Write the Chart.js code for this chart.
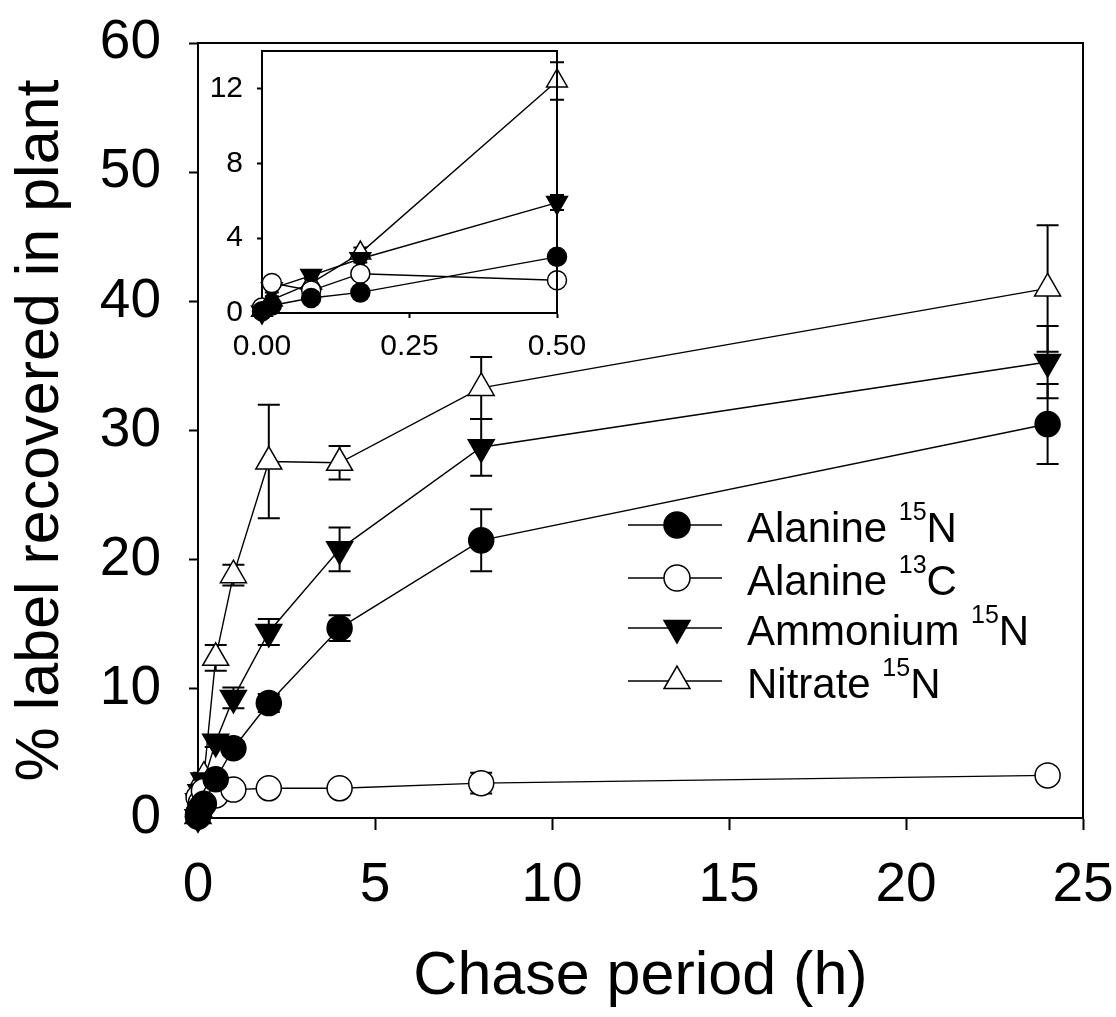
<!DOCTYPE html>
<html>
<head>
<meta charset="utf-8">
<script src="https://cdn.jsdelivr.net/npm/chart.js@4.4.1/dist/chart.umd.min.js"></script>
<style>
body{margin:0;background:#fff}
#wrap{position:relative;width:1116px;height:1017px}
#chart{position:absolute;left:0;top:0;width:1116px;height:1017px}
#inset{position:absolute;left:170px;top:30px;width:420px;height:350px}
</style>
</head>
<body>
<div id="wrap">
<canvas id="chart" width="1116" height="1017"></canvas>
<canvas id="inset" width="420" height="350"></canvas>
</div>
<script>
// chase period in hours (0, 1, 5, 10, 30 min, then 1-24 h)
var times = [0, 1/60, 5/60, 10/60, 0.5, 1, 2, 4, 8, 24];

var ala15N = [0.1, 0.4, 0.8, 1.1, 3.0, 5.4, 8.9, 14.7, 21.5, 30.5];
var ala13C = [0.3, 1.6, 1.2, 2.1, 1.75, 2.2, 2.3, 2.3, 2.7, 3.3];
var ammon15N = [0.05, 1.3, 2.0, 2.9, 5.9, 9.3, 14.4, 20.8, 28.7, 35.3];
var nitrate15N = [0.15, 0.7, 1.6, 3.2, 12.4, 18.8, 27.6, 27.5, 33.3, 41.0];

var ala15NErr = [0.1, 0.1, 0.2, 0.2, 0.3, 0.5, 0.7, 1.0, 2.4, 3.1];
var ala13CErr = [0.1, 0.2, 0.2, 0.2, 0.2, 0.3, 0.3, 0.3, 0.8, 0.4];
var ammon15NErr = [0.1, 0.2, 0.2, 0.2, 0.4, 0.8, 1.0, 1.7, 2.2, 2.8];
var nitrate15NErr = [0.1, 0.2, 0.3, 0.3, 1.0, 0.8, 4.4, 1.3, 2.4, 4.9];

// legend text: name, isotope mass (superscript), element
var names = ['Alanine', 'Alanine', 'Ammonium', 'Nitrate'];
var isotopes = ['15', '13', '15', '15'];
var elements = ['N', 'C', 'N', 'N'];

var xTicksMain = [0, 5, 10, 15, 20, 25];
var yTicksMain = [0, 10, 20, 30, 40, 50, 60];
var xTicksInset = [0, 0.25, 0.5];
var yTicksInset = [0, 4, 8, 12];

Chart.defaults.font.family = "'Liberation Sans', Arial, sans-serif";
Chart.defaults.color = '#000';

var series = [
  {vals: ala15N, err: ala15NErr, style: 'circle', fill: '#000', rot: 0},
  {vals: ala13C, err: ala13CErr, style: 'circle', fill: '#fff', rot: 0},
  {vals: ammon15N, err: ammon15NErr, style: 'triangle', fill: '#000', rot: 180},
  {vals: nitrate15N, err: nitrate15NErr, style: 'triangle', fill: '#fff', rot: 0}
];

function makeSets(n, rc, rt) {
  return series.map(function(s, i) {
    return {
      label: names[i] + ' ' + isotopes[i] + elements[i],
      data: s.vals.slice(0, n).map(function(v, j) { return {x: times[j], y: v}; }),
      errors: s.err.slice(0, n),
      showLine: true,
      borderColor: '#000',
      borderWidth: 1.4,
      pointStyle: s.style,
      pointRotation: s.rot,
      pointRadius: s.style == 'circle' ? rc : rt,
      pointBackgroundColor: s.fill,
      pointBorderColor: '#000',
      pointBorderWidth: 1.5,
      clip: false
    };
  });
}

function marker(ctx, style, x, y, r, fill, rot) {
  ctx.beginPath();
  if (style == 'circle') {
    ctx.arc(x, y, r, 0, Math.PI * 2);
  } else {
    var a = rot * Math.PI / 180;
    for (var k = 0; k < 3; k++) {
      var px = x + Math.sin(a) * r, py = y - Math.cos(a) * r;
      if (k == 0) ctx.moveTo(px, py); else ctx.lineTo(px, py);
      a += Math.PI * 2 / 3;
    }
    ctx.closePath();
  }
  ctx.fillStyle = fill;
  ctx.fill();
  ctx.lineWidth = 1.5;
  ctx.strokeStyle = '#000';
  ctx.stroke();
}

var errorBars = {
  id: 'errorBars',
  beforeDatasetsDraw: function(chart, args, opts) {
    var ctx = chart.ctx, xs = chart.scales.x, ys = chart.scales.y;
    ctx.save();
    ctx.strokeStyle = '#000';
    ctx.lineWidth = 2;
    chart.data.datasets.forEach(function(ds) {
      ds.data.forEach(function(p, j) {
        var e = ds.errors[j];
        var x = xs.getPixelForValue(p.x);
        var y1 = ys.getPixelForValue(p.y + e), y2 = ys.getPixelForValue(p.y - e);
        ctx.beginPath();
        ctx.moveTo(x, y1); ctx.lineTo(x, y2);
        ctx.moveTo(x - opts.cap, y1); ctx.lineTo(x + opts.cap, y1);
        ctx.moveTo(x - opts.cap, y2); ctx.lineTo(x + opts.cap, y2);
        ctx.stroke();
      });
    });
    ctx.restore();
  }
};

var frame = {
  id: 'frame',
  afterDraw: function(chart) {
    var a = chart.chartArea, ctx = chart.ctx;
    ctx.save();
    ctx.strokeStyle = '#000';
    ctx.lineWidth = 2;
    ctx.beginPath();
    ctx.moveTo(a.left, a.top); ctx.lineTo(a.right, a.top); ctx.lineTo(a.right, a.bottom);
    ctx.stroke();
    ctx.restore();
  }
};

var sketchLegend = {
  id: 'sketchLegend',
  afterDraw: function(chart) {
    var ctx = chart.ctx;
    var rows = [525, 578, 628, 681];
    ctx.save();
    series.forEach(function(s, i) {
      var y = rows[i];
      ctx.strokeStyle = '#000';
      ctx.lineWidth = 1.6;
      ctx.beginPath(); ctx.moveTo(628, y); ctx.lineTo(722, y); ctx.stroke();
      marker(ctx, s.style, 677, y, s.style == 'circle' ? 13 : 15, s.fill, s.rot);
      ctx.fillStyle = '#000';
      ctx.textBaseline = 'alphabetic';
      ctx.textAlign = 'left';
      ctx.font = "42px 'Liberation Sans', Arial, sans-serif";
      var tx = 747;
      var w = ctx.measureText(names[i] + ' ').width;
      ctx.fillText(names[i] + ' ', tx, y + 17);
      ctx.font = "25px 'Liberation Sans', Arial, sans-serif";
      ctx.fillText(isotopes[i], tx + w, y - 5);
      var w2 = ctx.measureText(isotopes[i]).width;
      ctx.font = "42px 'Liberation Sans', Arial, sans-serif";
      ctx.fillText(elements[i], tx + w + w2, y + 17);
    });
    ctx.restore();
  }
};

function axisOpts(min, max, tickVals, fontSize, tickLen, pad, fmt) {
  return {
    type: 'linear',
    min: min,
    max: max,
    afterBuildTicks: function(s) { s.ticks = tickVals.map(function(v) { return {value: v}; }); },
    ticks: {
      font: {size: fontSize, lineHeight: 1},
      padding: pad,
      color: '#000',
      maxRotation: 0,
      callback: fmt
    },
    grid: {display: true, drawOnChartArea: false, drawTicks: true, tickLength: tickLen, tickWidth: 2, color: '#000'},
    border: {display: true, color: '#000', width: 2}
  };
}

// fix the axis box size and drop the label overhang padding, so layout.padding places the plot area
function fixSize(dim, size) {
  return function(s) {
    s[dim] = size;
    s.paddingTop = 0; s.paddingBottom = 0; s.paddingLeft = 0; s.paddingRight = 0;
  };
}

var mainX = axisOpts(0, 25, xTicksMain, 55, 12, 28, function(v) { return v; });
mainX.title = {display: true, text: 'Chase period (h)', font: {size: 61, lineHeight: 1}, padding: {top: 0, bottom: 9}, color: '#000'};
mainX.afterFit = fixSize('height', 199);

var mainY = axisOpts(0, 60, yTicksMain, 55, 9, 28, function(v) { return v; });
mainY.title = {display: true, text: '% label recovered in plant', font: {size: 61, lineHeight: 1}, padding: {top: 11, bottom: 0}, color: '#000'};
mainY.afterFit = fixSize('width', 198);

new Chart('chart', {
  type: 'scatter',
  data: {datasets: makeSets(times.length, 12.5, 15)},
  options: {
    responsive: false,
    animation: false,
    layout: {padding: {top: 43, right: 33, left: 0, bottom: 0}},
    plugins: {legend: {display: false}, tooltip: {enabled: false}, errorBars: {cap: 11}},
    scales: {x: mainX, y: mainY}
  },
  plugins: [errorBars, frame, sketchLegend]
});

var insetX = axisOpts(0, 0.5, xTicksInset, 30, 5, 14, function(v) { return v.toFixed(2); });
insetX.afterFit = fixSize('height', 67);
var insetY = axisOpts(0, 14, yTicksInset, 30, 5, 14, function(v) { return v; });
insetY.afterFit = fixSize('width', 92);

new Chart('inset', {
  type: 'scatter',
  data: {datasets: makeSets(5, 9.5, 12)},
  options: {
    responsive: false,
    animation: false,
    layout: {padding: {top: 21, right: 33, left: 0, bottom: 0}},
    plugins: {legend: {display: false}, tooltip: {enabled: false}, errorBars: {cap: 7}},
    scales: {x: insetX, y: insetY}
  },
  plugins: [errorBars, frame]
});
</script>
</body>
</html>
